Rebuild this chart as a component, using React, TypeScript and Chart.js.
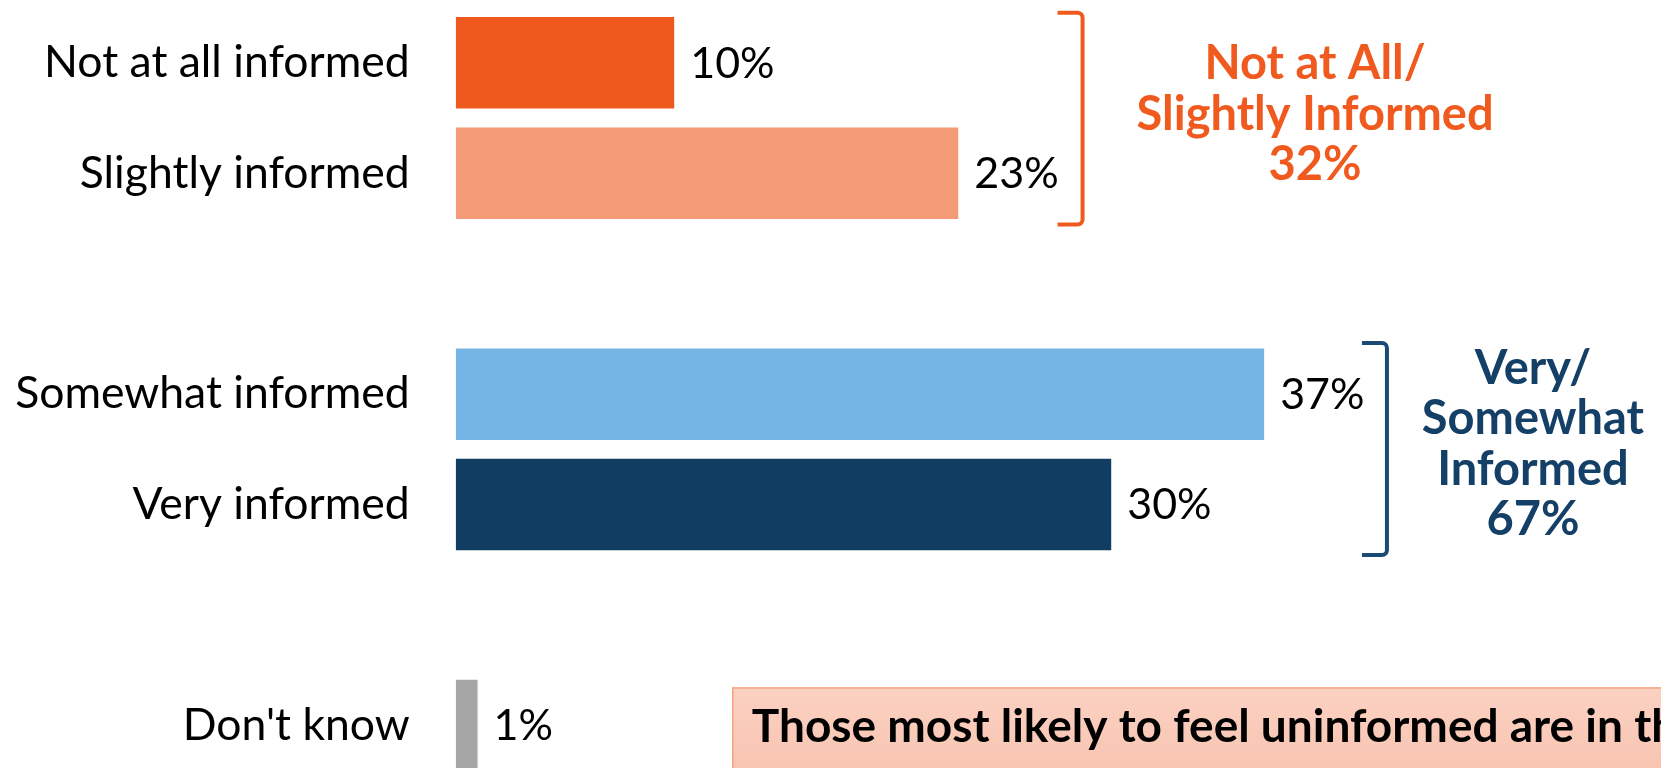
import React, { useEffect, useRef } from 'react';
import { Chart, registerables } from 'chart.js';

Chart.register(...registerables);

// ---- data ----
const categories = ['Not at all informed', 'Slightly informed', '', 'Somewhat informed', 'Very informed', '', "Don't know"];
const values: (number | null)[] = [10, 23, null, 37, 30, null, 1];
const valueLabels = ['10%', '23%', '', '37%', '30%', '', '1%'];
const barColors = ['#F0591D', '#F59A77', '#FFFFFF', '#74B5E5', '#123D62', '#FFFFFF', '#A6A6A6'];
const lowGroupLines = ['Not at All/', 'Slightly Informed', '32%'];
const highGroupLines = ['Very/', 'Somewhat', 'Informed', '67%'];
const calloutText = 'Those most likely to feel uninformed are in th';
const xMax = 55;

const FONT = 'Lato, "Noto Sans", sans-serif';
const ORANGE = '#F05A1E';
const NAVY = '#143F66';

export default function App() {
  const ref = useRef<HTMLCanvasElement>(null);

  useEffect(() => {
    document.body.style.margin = '0';
    const canvas = ref.current!;

    const annot = {
      id: 'annot',
      afterDatasetsDraw(chart: any) {
        const ctx: CanvasRenderingContext2D = chart.ctx;
        const xs = chart.scales.x;
        const ys = chart.scales.y;
        ctx.save();

        // value labels
        ctx.font = `43px ${FONT}`;
        ctx.fillStyle = '#000';
        ctx.textAlign = 'left';
        ctx.textBaseline = 'middle';
        const meta = chart.getDatasetMeta(0);
        meta.data.forEach((bar: any, i: number) => {
          if (values[i] == null) return;
          ctx.fillText(valueLabels[i], bar.x + 16, bar.y + 1);
        });

        // brackets
        const bracket = (xv: number, y0: number, y1: number, color: string) => {
          const x = xs.getPixelForValue(xv);
          const xl = x - 25;
          const t = ys.getPixelForValue(y0);
          const b = ys.getPixelForValue(y1);
          ctx.strokeStyle = color;
          ctx.lineWidth = 4;
          ctx.beginPath();
          ctx.moveTo(xl, t);
          ctx.arcTo(x, t, x, b, 5);
          ctx.arcTo(x, b, xl, b, 5);
          ctx.lineTo(xl, b);
          ctx.stroke();
        };
        bracket(28.69, -0.454, 1.465, ORANGE);
        bracket(42.62, 2.537, 4.456, '#1B4A75');

        // group texts
        const group = (lines: string[], xv: number, yv: number, color: string) => {
          ctx.font = `bold 47px ${FONT}`;
          ctx.fillStyle = color;
          ctx.textAlign = 'center';
          ctx.textBaseline = 'alphabetic';
          const x = xs.getPixelForValue(xv);
          const y = ys.getPixelForValue(yv);
          lines.forEach((l, i) => ctx.fillText(l, x, y + i * 50.3));
        };
        group(lowGroupLines, 39.33, 0.149, ORANGE);
        group(highGroupLines, 49.3, 2.908, NAVY);

        // callout box
        const bx = xs.getPixelForValue(12.68);
        const by = ys.getPixelForValue(5.66);
        const grad = ctx.createLinearGradient(0, by, 0, by + 90);
        grad.addColorStop(0, '#FBD1C2');
        grad.addColorStop(1, '#F8C3B0');
        ctx.fillStyle = grad;
        ctx.fillRect(bx, by, chart.width - bx + 10, 120);
        ctx.strokeStyle = '#F4A283';
        ctx.lineWidth = 1.5;
        ctx.strokeRect(bx, by, chart.width - bx + 10, 120);
        ctx.font = `bold 46px ${FONT}`;
        ctx.fillStyle = '#000';
        ctx.textAlign = 'left';
        ctx.textBaseline = 'alphabetic';
        ctx.fillText(calloutText, bx + 19, by + 54);

        ctx.restore();
      },
    };

    const chart = new Chart(canvas, {
      type: 'bar',
      data: {
        labels: categories,
        datasets: [
          {
            data: values,
            backgroundColor: barColors,
            borderWidth: 0,
            categoryPercentage: 1,
            barPercentage: 0.8285,
          },
        ],
      },
      options: {
        indexAxis: 'y',
        responsive: false,
        animation: false,
        layout: { padding: { top: 7.6, bottom: 9.3, right: 3.55, left: 0 } },
        plugins: { legend: { display: false }, tooltip: { enabled: false } },
        scales: {
          x: { display: false, min: 0, max: xMax },
          y: {
            grid: { display: false, drawTicks: false },
            border: { display: false },
            ticks: { color: '#000', font: { family: FONT, size: 44.5 }, padding: 46, autoSkip: false },
            afterFit: (s: any) => {
              s.width = 455.7;
              s.paddingTop = 0;
              s.paddingBottom = 0;
            },
          },
        },
      },
      plugins: [annot],
    } as any);

    return () => chart.destroy();
  }, []);

  return (
    <div style={{ width: 1661, height: 768, overflow: 'hidden', position: 'relative', background: '#fff' }}>
      <canvas ref={ref} width={1661} height={790} style={{ display: 'block' }} />
    </div>
  );
}
